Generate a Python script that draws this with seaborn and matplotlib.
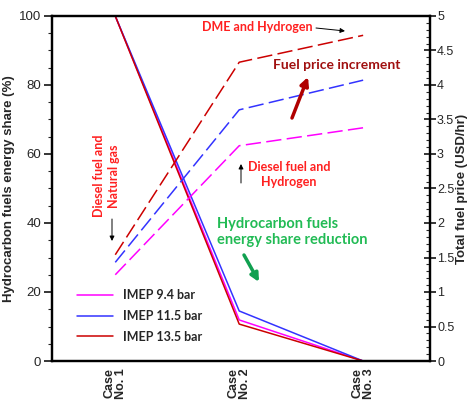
import matplotlib
matplotlib.use("Agg")
import matplotlib.pyplot as plt
import seaborn as sns
import pandas as pd
import numpy as np
from matplotlib.ticker import MultipleLocator
from matplotlib.lines import Line2D

sns.set_theme(style="white")
plt.rcParams['font.family'] = ['Liberation Sans', 'DejaVu Sans']

cases = [1, 2, 3]
case_labels = ["Case\nNo. 1", "Case\nNo. 2", "Case\nNo. 3"]
series = ["IMEP 9.4 bar", "IMEP 11.5 bar", "IMEP 13.5 bar"]
colors = ["#FF00FF", "#3333FF", "#CC0000"]
share_94 = [100, 11.9, 0]
share_115 = [100, 14.5, 0]
share_135 = [100, 10.7, 0]
price_94 = [1.25, 3.12, 3.38]
price_115 = [1.43, 3.64, 4.07]
price_135 = [1.54, 4.33, 4.72]
price_ticks = [0, 0.5, 1, 1.5, 2, 2.5, 3, 3.5, 4, 4.5, 5]
price_tick_labels = ["0", "0.5", "1", "1.5", "2", "2.5", "3", "3.5", "4", "4.5", "5"]

share_df = pd.DataFrame({
    "case": cases * 3,
    "share": share_94 + share_115 + share_135,
    "series": [s for s in series for _ in cases],
})
price_df = pd.DataFrame({
    "case": cases * 3,
    "price": price_94 + price_115 + price_135,
    "series": [s for s in series for _ in cases],
})
palette = dict(zip(series, colors))

fig = plt.figure(figsize=(4.69, 4.0), dpi=100)
ax = fig.add_axes([0.111, 0.0975, 0.806, 0.8625])
ax2 = ax.twinx()

sns.lineplot(data=share_df, x="case", y="share", hue="series", palette=palette,
             ax=ax, linewidth=1.1, legend=False)
sns.lineplot(data=price_df, x="case", y="price", hue="series", palette=palette,
             ax=ax2, linewidth=1.1, legend=False)
for ln in ax2.lines:
    ln.set_dashes([10, 3.5])

ax.set_xlim(0.49, 3.54)
ax.set_ylim(0, 100)
ax2.set_ylim(0, 5)

ax.set_xticks(cases)
ax.set_xticklabels(case_labels, rotation=90, fontsize=9, fontweight='bold',
                   linespacing=1.0, va='top')
ax.tick_params(axis='x', length=0, pad=5)
ax.set_xlabel("")
ax.set_ylabel("Hydrocarbon fuels energy share (%)", fontsize=9.5, fontweight='bold', labelpad=3)
ax2.set_ylabel("Total fuel price (USD/hr)", fontsize=9.5, fontweight='bold', labelpad=1)

ax.yaxis.set_major_locator(MultipleLocator(20))
ax.yaxis.set_minor_locator(MultipleLocator(5))
ax.tick_params(axis='y', which='major', direction='out', length=6, width=1.3,
               labelsize=9.5, left=True, pad=2)
ax.tick_params(axis='y', which='minor', direction='out', length=3, width=0.8, left=True)

ax2.set_yticks(price_ticks)
ax2.set_yticklabels(price_tick_labels)
ax2.yaxis.set_minor_locator(MultipleLocator(0.1))
ax2.tick_params(axis='y', which='major', direction='inout', length=8, width=1.3,
                labelsize=9, right=True, pad=1)
ax2.tick_params(axis='y', which='minor', direction='in', length=3, width=0.8, right=True)

for a in (ax, ax2):
    for sp in a.spines.values():
        sp.set_linewidth(1.6)
        sp.set_color("black")
ax.grid(False)
ax2.grid(False)

handles = [Line2D([0], [0], color=c, lw=1.1) for c in colors]
leg = ax.legend(handles, series, loc='lower left', bbox_to_anchor=(0.035, 0.02),
                frameon=False, handlelength=2.9, handletextpad=0.8, labelspacing=0.7,
                prop={'family': 'Lato', 'weight': 'bold', 'size': 9})

tf = 'Lato'


def fx(x):
    return x / 469


def fy(y):
    return 1 - y / 400


def arrow(x0, y0, x1, y1, color, lw, ms):
    fig.add_artist(matplotlib.patches.FancyArrowPatch(
        (fx(x0), fy(y0)), (fx(x1), fy(y1)), transform=fig.transFigure,
        arrowstyle='-|>', color=color, lw=lw, mutation_scale=ms,
        shrinkA=0, shrinkB=0))


fig.text(fx(257), fy(27), "DME and Hydrogen", fontsize=9, color='#FF2020',
         fontweight='bold', family=tf, ha='center', va='center')
arrow(316, 28, 345, 31, 'black', 0.7, 7)

fig.text(fx(337), fy(65), "Fuel price increment", fontsize=10, color='#A01010',
         fontweight='bold', family=tf, ha='center', va='center')
arrow(292, 118, 308, 77, '#B00000', 2.5, 12)

fig.text(fx(289), fy(174), "Diesel fuel and\nHydrogen", fontsize=9, color='#FF2020',
         fontweight='bold', family=tf, ha='center', va='center', linespacing=1.3)
arrow(241, 183, 241, 164, 'black', 0.7, 7)

fig.text(fx(106), fy(176), "Diesel fuel and\nNatural gas", fontsize=9, color='#FF2020',
         fontweight='bold', family=tf, ha='center', va='center', rotation=90,
         linespacing=1.3)
arrow(112, 219, 112, 241, 'black', 0.7, 7)

fig.text(fx(217), fy(232), "Hydrocarbon fuels\nenergy share reduction", fontsize=10.5,
         color='#22BB55', fontweight='bold', family=tf, ha='left', va='center',
         linespacing=1.25)
arrow(244, 255, 259, 282, '#10A050', 2.5, 12)

fig.savefig("out.png", dpi=100)
